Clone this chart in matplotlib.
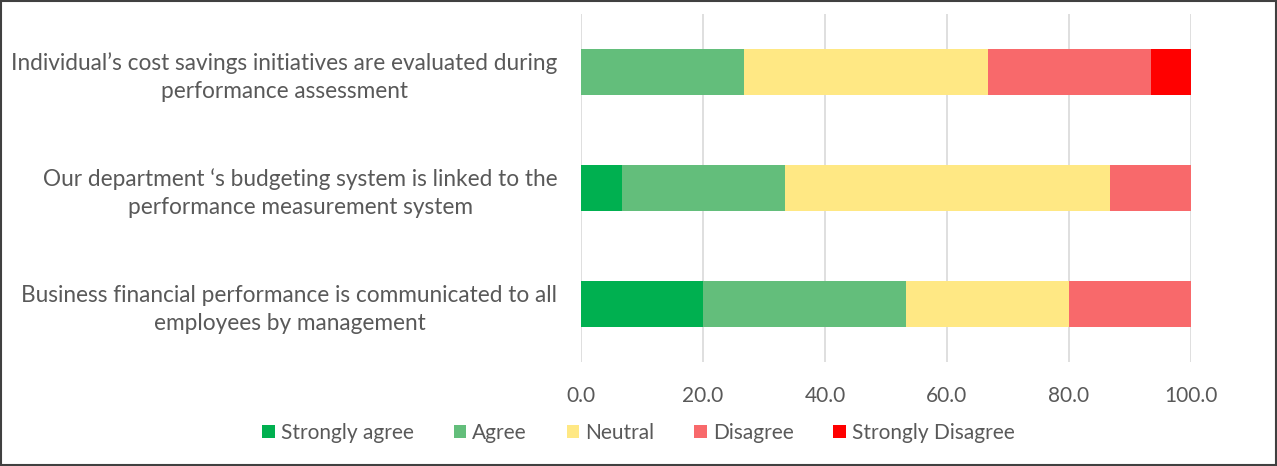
import numpy as np
import matplotlib.pyplot as plt
from matplotlib.patches import Rectangle

statements = [
    "Business financial performance is communicated to all\nemployees by management",
    "Our department \u2018s budgeting system is linked to the\nperformance measurement system",
    "Individual\u2019s cost savings initiatives are evaluated during\nperformance assessment",
]
levels = ["Strongly agree", "Agree", "Neutral", "Disagree", "Strongly Disagree"]
strongly_agree = [20.0, 6.7, 0.0]
agree = [33.3, 26.7, 26.7]
neutral = [26.7, 53.3, 40.0]
disagree = [20.0, 13.3, 26.7]
strongly_disagree = [0.0, 0.0, 6.7]
colors = ["#00B050", "#63BE7B", "#FFE884", "#F8696B", "#FF0000"]
xticks = [0, 20, 40, 60, 80, 100]

plt.rcParams['font.family'] = ['Lato', 'DejaVu Sans']

fig = plt.figure(figsize=(12.77, 4.66), dpi=100)
ax = fig.add_axes([0.455, 0.223, 0.4775, 0.747])

y = np.arange(len(statements))
left = np.zeros(len(statements))
handles = []
for name, vals, col in zip(levels, [strongly_agree, agree, neutral, disagree, strongly_disagree], colors):
    b = ax.barh(y, vals, left=left, height=0.4, color=col, label=name, zorder=3)
    left += np.array(vals)
    handles.append(b)

ax.set_xlim(0, 100)
ax.set_ylim(-0.5, 2.5)
ax.set_xticks(xticks)
ax.set_xticklabels([f"{t:.1f}" for t in xticks], fontsize=15, color="#595959")
ax.set_yticks(y)
ax.set_yticklabels(statements, fontsize=16.3, color="#595959")
for lbl in ax.get_yticklabels():
    lbl.set_multialignment('center')
    lbl.set_linespacing(1.4)
ax.tick_params(axis='both', length=0)
ax.tick_params(axis='y', pad=17)
ax.tick_params(axis='x', pad=17)
ax.grid(axis='x', color="#D9D9D9", linewidth=1.2, zorder=0)
for s in ax.spines.values():
    s.set_visible(False)

fig.legend(handles=handles, loc='center', bbox_to_anchor=(0.5, 0.071), ncol=5,
           frameon=False, fontsize=15, labelcolor="#595959",
           handlelength=0.6, handleheight=0.6, handletextpad=0.3, columnspacing=1.9)

# outer frame
fig.patches.append(Rectangle((0.001, 0.002), 0.998, 0.996, transform=fig.transFigure,
                             fill=False, edgecolor="#404040", linewidth=1.5))

fig.savefig("out.png", dpi=100)
